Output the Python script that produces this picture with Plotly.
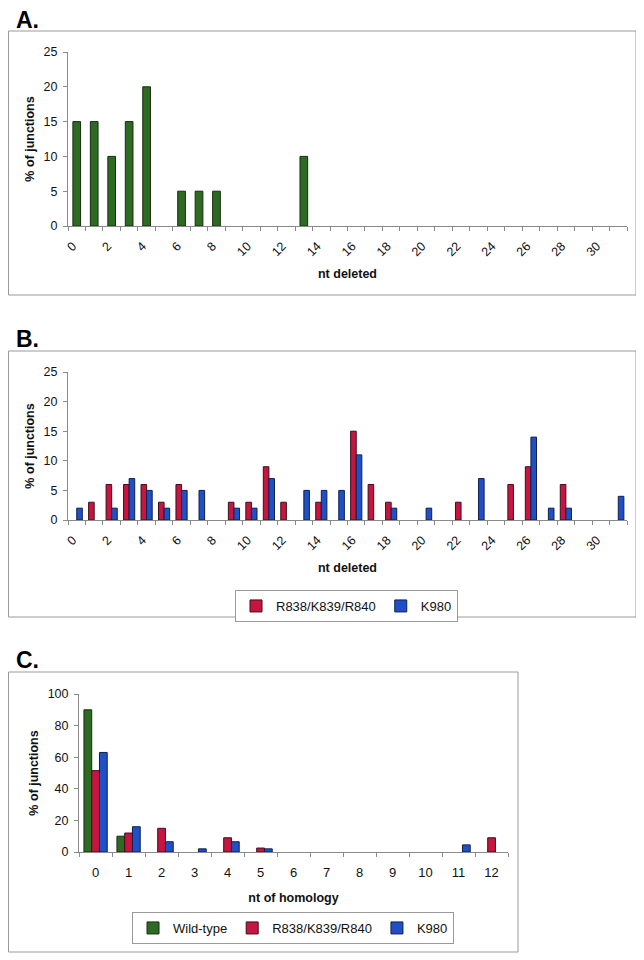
import plotly.graph_objects as go

# ---------------- data ----------------
nt_deleted = list(range(32))
nt_deleted_ticks = list(range(0, 31, 2))

wt_deleted = [15, 15, 10, 15, 20, 0, 5, 5, 5, 0, 0, 0, 0, 10, 0, 0,
              0, 0, 0, 0, 0, 0, 0, 0, 0, 0, 0, 0, 0, 0, 0, 0]

r838_deleted = [0, 3, 6, 6, 6, 3, 6, 0, 0, 3, 3, 9, 3, 0, 3, 0,
                15, 6, 3, 0, 0, 0, 3, 0, 0, 6, 9, 0, 6, 0, 0, 0]
k980_deleted = [2, 0, 2, 7, 5, 2, 5, 5, 0, 2, 2, 7, 0, 5, 5, 5,
                11, 0, 2, 0, 2, 0, 0, 7, 0, 0, 14, 2, 2, 0, 0, 4]

nt_homology = list(range(13))
wt_homology = [90, 10, 0, 0, 0, 0, 0, 0, 0, 0, 0, 0, 0]
r838_homology = [51.5, 12, 15, 0, 9, 2.5, 0, 0, 0, 0, 0, 0, 9]
k980_homology = [63, 16, 6.5, 2, 6.5, 2, 0, 0, 0, 0, 0, 4.5, 0]

series_names = ["Wild-type", "R838/K839/R840", "K980"]

# ---------------- styling ----------------
# the page body has an 8px margin, so the figure starts at (8, 8)
OFF = 8
W, H = 644 - OFF, 960 - OFF
FONT = "Liberation Sans, Arial, sans-serif"
GREEN = "#2E6B22"
RED = "#C8153F"
BLUE = "#1F50C8"
AXIS = "#8a8a8a"
FRAME = "#9a9a9a"


def fx(x):
    return (x - OFF) / W


def fy(y):
    return 1 - (y - OFF) / H


def nz(vals):
    return [v if v else None for v in vals]


fig = go.Figure()

# Panel A
fig.add_trace(go.Bar(x=nt_deleted, y=nz(wt_deleted), name=series_names[0],
                     marker=dict(color=GREEN, line=dict(color="#1a2a14", width=1)),
                     width=0.44, offset=-0.22, xaxis="x", yaxis="y", showlegend=False))

# Panel B
fig.add_trace(go.Bar(x=nt_deleted, y=nz(r838_deleted), name=series_names[1],
                     marker=dict(color=RED, line=dict(color="#3a1020", width=1)),
                     width=0.32, offset=-0.32, xaxis="x2", yaxis="y2", legend="legend2"))
fig.add_trace(go.Bar(x=nt_deleted, y=nz(k980_deleted), name=series_names[2],
                     marker=dict(color=BLUE, line=dict(color="#10204a", width=1)),
                     width=0.32, offset=0.0, xaxis="x2", yaxis="y2", legend="legend2"))

# Panel C
fig.add_trace(go.Bar(x=nt_homology, y=nz(wt_homology), name=series_names[0],
                     marker=dict(color=GREEN, line=dict(color="#1a2a14", width=1)),
                     width=0.235, offset=-0.35, xaxis="x3", yaxis="y3", legend="legend3"))
fig.add_trace(go.Bar(x=nt_homology, y=nz(r838_homology), name=series_names[1],
                     marker=dict(color=RED, line=dict(color="#3a1020", width=1)),
                     width=0.235, offset=-0.115, xaxis="x3", yaxis="y3", legend="legend3"))
fig.add_trace(go.Bar(x=nt_homology, y=nz(k980_homology), name=series_names[2],
                     marker=dict(color=BLUE, line=dict(color="#10204a", width=1)),
                     width=0.235, offset=0.12, xaxis="x3", yaxis="y3", legend="legend3"))

tickfont = dict(family=FONT, size=12.5, color="#111")
titlefont = dict(family=FONT, size=12.5, color="#111", weight="bold")


def xdel(domain, anchor):
    return dict(domain=domain, anchor=anchor, range=[-0.5, 31.5], automargin=False,
                tickmode="array", tickvals=nt_deleted_ticks,
                ticktext=[str(v) for v in nt_deleted_ticks],
                tickangle=-45, ticks="", tickfont=tickfont,
                ticklabelstandoff=7, ticklabelshift=-4,
                showline=True, linecolor=AXIS, linewidth=1,
                showgrid=False, zeroline=False,
                minor=dict(ticks="outside", tick0=-0.5, dtick=1, ticklen=4,
                           tickcolor=AXIS, showgrid=False),
                title=dict(text="nt deleted", font=titlefont, standoff=11))


def ypct(domain, anchor, rng, dtick):
    return dict(domain=domain, anchor=anchor, range=rng, dtick=dtick, automargin=False,
                ticks="outside", ticklen=4, tickcolor=AXIS, tickfont=tickfont,
                ticklabelstandoff=3,
                showline=True, linecolor=AXIS, linewidth=1,
                showgrid=False, zeroline=False,
                title=dict(text="% of junctions", font=titlefont, standoff=6))


fig.update_layout(
    template="none",
    width=W, height=H,
    margin=dict(l=0, r=0, t=0, b=0, autoexpand=False),
    paper_bgcolor="white", plot_bgcolor="white",
    font=dict(family=FONT, color="#111"),
    barmode="overlay",
    xaxis=xdel([fx(68), fx(627)], "y"),
    yaxis=ypct([fy(226), fy(52)], "x", [0, 25], 5),
    xaxis2=xdel([fx(68), fx(627)], "y2"),
    yaxis2=ypct([fy(520), fy(372)], "x2", [0, 25], 5),
    xaxis3=dict(domain=[fx(79), fx(508)], anchor="y3", range=[-0.5, 12.5], automargin=False,
                tickmode="array", tickvals=nt_homology,
                ticktext=[str(v) for v in nt_homology],
                ticks="", tickfont=dict(family=FONT, size=13, color="#111"),
                ticklabelstandoff=8,
                showline=True, linecolor=AXIS, linewidth=1,
                showgrid=False, zeroline=False,
                minor=dict(ticks="outside", tick0=-0.5, dtick=1, ticklen=4,
                           tickcolor=AXIS, showgrid=False),
                title=dict(text="nt of homology", font=titlefont, standoff=14)),
    yaxis3=ypct([fy(852), fy(694)], "x3", [0, 100], 20),
    legend2=dict(x=fx(346.5), y=fy(590), xanchor="center", yanchor="top",
                 orientation="h", bordercolor=FRAME, borderwidth=1,
                 font=dict(family=FONT, size=13, color="#111"),
                 itemwidth=30, bgcolor="white"),
    legend3=dict(x=fx(293), y=fy(912), xanchor="center", yanchor="top",
                 orientation="h", bordercolor=FRAME, borderwidth=1,
                 font=dict(family=FONT, size=13, color="#111"),
                 itemwidth=30, bgcolor="white"),
    showlegend=True,
)

# chart frames
for (x0, y0, x1, y1) in [(8, 31, 636, 295), (8, 351, 636, 617), (8, 672, 518, 952)]:
    fig.add_shape(type="rect", xref="paper", yref="paper",
                  x0=fx(x0) + 0.5 / W, x1=fx(x1), y0=fy(y1), y1=fy(y0),
                  line=dict(color=FRAME, width=1), fillcolor="rgba(0,0,0,0)",
                  layer="below")

# panel letters
for label, yc in [("A.", 20.5), ("B.", 339), ("C.", 660)]:
    fig.add_annotation(text=label, xref="paper", yref="paper",
                       x=fx(15), y=fy(yc), xanchor="left", yanchor="middle",
                       showarrow=False, borderpad=0,
                       font=dict(family=FONT, size=23, color="#000", weight="bold"))

fig.write_html("out.html")
